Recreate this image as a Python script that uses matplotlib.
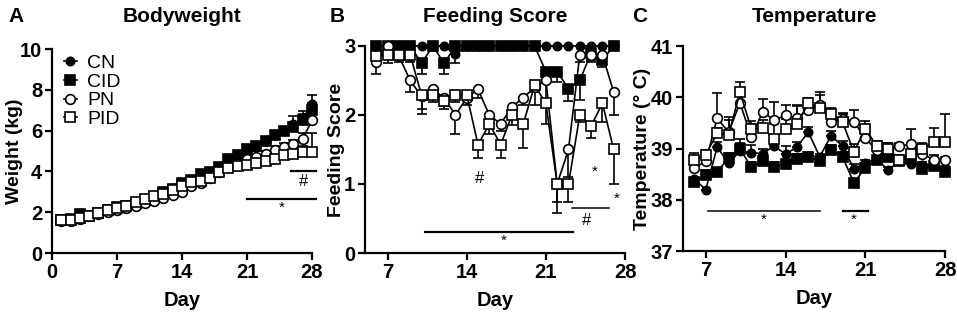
import matplotlib
matplotlib.use('Agg')
import matplotlib.pyplot as plt
import numpy as np

plt.rcParams['font.family'] = ['Liberation Sans', 'DejaVu Sans']

groups = ['CN', 'CID', 'PN', 'PID']

# Bodyweight (kg), days 1-28
bw_days = list(range(1, 29))
bw_cn = [1.6, 1.6, 1.7, 1.8, 1.95, 2.1, 2.2, 2.3, 2.45, 2.6, 2.75, 3.0, 3.2, 3.45,
         3.6, 3.8, 3.95, 4.2, 4.5, 4.8, 5.0, 5.2, 5.5, 5.8, 6.0, 6.3, 6.6, 7.3]
bw_cid = [1.6, 1.65, 1.9, 1.8, 1.95, 2.1, 2.25, 2.3, 2.45, 2.6, 2.75, 3.0, 3.15, 3.45,
          3.6, 3.85, 3.95, 4.2, 4.6, 4.8, 5.1, 5.25, 5.5, 5.8, 6.0, 6.2, 6.5, 7.0]
bw_pn = [1.55, 1.55, 1.65, 1.8, 1.9, 2.0, 2.1, 2.2, 2.3, 2.45, 2.55, 2.7, 2.85, 3.0,
         3.3, 3.45, 3.7, 3.95, 4.2, 4.35, 4.6, 4.7, 4.85, 5.05, 5.2, 5.35, 5.6, 6.5]
bw_pid = [1.6, 1.6, 1.7, 1.8, 1.95, 2.1, 2.2, 2.3, 2.5, 2.65, 2.8, 2.9, 3.1, 3.3,
          3.5, 3.55, 3.7, 3.95, 4.15, 4.25, 4.3, 4.4, 4.5, 4.6, 4.8, 4.85, 4.95, 4.95]
bw_cn_err = [0] * 23 + [0.15, 0.2, 0.4, 0.35, 0.45]
bw_cid_err = [0] * 26 + [0.3, 0.35]
bw_pn_err = [0] * 21 + [0.1, 0.15, 0.2, 0.2, 0.2, 0.3, 0.3]
bw_pid_err = [0] * 24 + [0.2, 0.25, 0.3, 0.95]

# Feeding score, days 6-27
fs_days = list(range(6, 28))
fs_cn = [3, 3, 3, 3, 3, 3, 3, 2.88, 3, 3, 3, 3, 3, 3, 3, 3, 3, 3, 3, 3, 3, 3]
fs_cid = [3, 3, 3, 3, 2.75, 3, 2.75, 3, 3, 3, 3, 3, 3, 3, 3, 2.63, 2.63, 2.38, 2.5, 2.9, 2.8, 3]
fs_pn = [2.77, 3.0, 2.85, 2.5, 2.27, 2.37, 2.25, 2.0, 2.25, 2.37, 2.0, 1.87, 2.12, 2.25,
         2.4, 2.5, 1.0, 1.5, 2.87, 2.87, 2.87, 2.33]
fs_pid = [2.85, 2.87, 2.87, 2.87, 2.29, 2.29, 2.2, 2.29, 2.29, 1.57, 1.87, 1.57, 2.0, 1.87,
          2.43, 2.17, 1.0, 1.0, 2.0, 1.84, 2.17, 1.5]
fs_cn_err = [0] * 7 + [0.12] + [0] * 14
fs_cid_err = [0, 0, 0, 0, 0.15, 0, 0.15, 0, 0, 0, 0, 0, 0, 0, 0, 0.15, 0.15, 0.18, 0.28, 0.1, 0.1, 0]
fs_pn_err = [0.17, 0, 0, 0.17, 0.25, 0.1, 0.12, 0.28, 0.1, 0.12, 0.1, 0.1, 0.1, 0.1,
             0.25, 0.35, 0.26, 0.4, 0.1, 0.1, 0.1, 0.33]
fs_pid_err = [0.1, 0.12, 0.1, 0.1, 0.2, 0.1, 0.12, 0.1, 0.08, 0.2, 0.15, 0.2, 0.15, 0.35,
              0.1, 0.3, 0.42, 0.26, 0.1, 0.17, 0.27, 0.5]

# Temperature (deg C), days 6-28
t_days = list(range(6, 29))
t_cn = [38.4, 38.2, 39.03, 38.71, 38.95, 38.92, 38.9, 39.05, 38.89, 39.03, 39.32, 38.84,
        39.25, 39.05, 38.6, 38.72, 38.8, 38.58, 38.75, 38.7, 38.68, 38.68, 38.6]
t_cid = [38.35, 38.48, 38.55, 38.81, 38.99, 38.64, 38.75, 38.64, 38.7, 38.8, 38.84, 38.75,
         38.97, 38.84, 38.33, 38.62, 38.78, 38.84, 38.75, 38.8, 38.6, 38.65, 38.55]
t_pn = [38.62, 38.75, 39.59, 39.32, 39.89, 39.22, 39.72, 39.55, 39.65, 39.6, 39.75, 39.85,
        39.52, 39.58, 39.52, 39.2, 38.97, 39.0, 39.05, 39.08, 38.9, 38.78, 38.78]
t_pid = [38.77, 38.88, 39.3, 39.26, 40.1, 39.38, 39.4, 39.18, 39.38, 39.48, 39.88, 39.8,
         39.68, 39.52, 38.93, 39.39, 39.05, 39.0, 38.78, 38.9, 39.0, 39.12, 39.12]
t_cn_err = [0, 0, 0.1, 0.1, 0.15, 0.15, 0.1, 0.1, 0.15, 0.1, 0.1, 0.05,
            0.1, 0.1, 0.1, 0.05, 0.05, 0.05, 0.05, 0.05, 0.05, 0.05, 0.05]
t_cid_err = [0, 0.1, 0.05, 0.1, 0.2, 0.1, 0.1, 0.1, 0.05, 0.1, 0.1, 0.05,
             0.1, 0.1, 0.05, 0.05, 0.05, 0.05, 0.05, 0.05, 0.05, 0.05, 0.05]
t_pn_err = [0.1, 0.1, 0.5, 0.3, 0.15, 0.25, 0.25, 0.35, 0.2, 0.25, 0.15, 0.2,
            0.2, 0.12, 0.23, 0.1, 0.15, 0.1, 0.05, 0.3, 0.15, 0.1, 0.05]
t_pid_err = [0.15, 0.1, 0.1, 0.3, 0.2, 0.15, 0.15, 0.3, 0.2, 0.35, 0.1, 0.3,
             0.12, 0.15, 0.15, 0.15, 0.1, 0.1, 0.1, 0.2, 0.1, 0.28, 0.55]

styles = {
    'CN': dict(marker='o', mfc='black', ms=6),
    'CID': dict(marker='s', mfc='black', ms=7),
    'PN': dict(marker='o', mfc='white', ms=7),
    'PID': dict(marker='s', mfc='white', ms=7.5),
}

fig = plt.figure(figsize=(9.57, 3.12), dpi=100)


def panel(rect, days, series, errs, err_dir, xlim, ylim, xticks, yticks, ylabel, ylab_x):
    ax = fig.add_axes(rect)
    for name, vals, err in zip(groups, series, errs):
        err = np.array(err, dtype=float)
        zeros = np.zeros_like(err)
        yerr = [err, zeros] if err_dir == 'down' else [zeros, err]
        ax.errorbar(days, vals, yerr=yerr, color='black', lw=1.2, mec='black', mew=1.2,
                    elinewidth=1.2, capsize=3.5, capthick=1.2, clip_on=False,
                    label=name, **styles[name])
    ax.set_xlim(*xlim)
    ax.set_ylim(*ylim)
    ax.set_xticks(xticks)
    ax.set_yticks(yticks)
    for s in ['top', 'right']:
        ax.spines[s].set_visible(False)
    for s in ['left', 'bottom']:
        ax.spines[s].set_linewidth(1.6)
    ax.tick_params(width=1.6, length=5, labelsize=14.5, pad=2)
    for lab in ax.get_xticklabels() + ax.get_yticklabels():
        lab.set_fontweight('bold')
    ax.set_xlabel('Day', fontsize=14.5, fontweight='bold', labelpad=7)
    ax.set_ylabel(ylabel, fontsize=14, fontweight='bold')
    ax.yaxis.set_label_coords(ylab_x, 0.5)
    return ax


axA = panel([0.0543, 0.1891, 0.2717, 0.6538], bw_days,
            [bw_cn, bw_cid, bw_pn, bw_pid], [bw_cn_err, bw_cid_err, bw_pn_err, bw_pid_err],
            'up', (0, 28), (0, 10), [0, 7, 14, 21, 28], [0, 2, 4, 6, 8, 10], 'Weight (kg)',
            -0.112)
axB = panel([0.3814, 0.1891, 0.2717, 0.6635], fs_days,
            [fs_cn, fs_cid, fs_pn, fs_pid], [fs_cn_err, fs_cid_err, fs_pn_err, fs_pid_err],
            'down', (5, 28), (0, 3), [7, 14, 21, 28], [0, 1, 2, 3], 'Feeding Score',
            -0.075)
axC = panel([0.7137, 0.1955, 0.2738, 0.6570], t_days,
            [t_cn, t_cid, t_pn, t_pid], [t_cn_err, t_cid_err, t_pn_err, t_pid_err],
            'up', (5, 28), (37, 41), [7, 14, 21, 28], [37, 38, 39, 40, 41], 'Temperature (° C)',
            -0.122)

# legend (panel A)
handles, labels = axA.get_legend_handles_labels()
handles = [h[0] for h in handles]
axA.legend(handles, labels, loc='upper left', bbox_to_anchor=(0.0, 1.03), frameon=False,
           handlelength=0.7, handletextpad=0.5, labelspacing=0.05, fontsize=14,
           borderaxespad=0.2)

# significance bars
axA.plot([21, 28.4], [2.65, 2.65], color='black', lw=1.6, clip_on=False)
axA.text(24.7, 2.2, '*', ha='center', va='center', fontsize=11)
axA.plot([25.7, 28.4], [4.0, 4.0], color='black', lw=1.6, clip_on=False)
axA.text(27.1, 3.5, '#', ha='center', va='center', fontsize=12)

axB.plot([10.3, 23.4], [0.31, 0.31], color='black', lw=1.6)
axB.text(17.3, 0.17, '*', ha='center', va='center', fontsize=11)
axB.plot([23.3, 26.6], [0.65, 0.65], color='black', lw=1.1)
axB.text(24.6, 0.47, '#', ha='center', va='center', fontsize=12)
axB.text(15.1, 1.08, '#', ha='center', va='center', fontsize=12)
axB.text(25.3, 1.17, '*', ha='center', va='center', fontsize=11)
axB.text(27.3, 0.79, '*', ha='center', va='center', fontsize=11)

axC.plot([7.2, 17.0], [37.78, 37.78], color='black', lw=1.1)
axC.text(12.1, 37.6, '*', ha='center', va='center', fontsize=11)
axC.plot([19.0, 21.2], [37.78, 37.78], color='black', lw=1.6)
axC.text(20.0, 37.6, '*', ha='center', va='center', fontsize=11)

# titles and panel letters
for ax, title in [(axA, 'Bodyweight'), (axB, 'Feeding Score'), (axC, 'Temperature')]:
    pos = ax.get_position()
    fig.text((pos.x0 + pos.x1) / 2, 1 - 16 / 312, title, ha='center', va='center',
             fontsize=15, fontweight='bold')
for x, letter in [(8, 'A'), (330, 'B'), (632, 'C')]:
    fig.text(x / 957, 1 - 16 / 312, letter, ha='left', va='center', fontsize=15,
             fontweight='bold')

fig.savefig('out.png', dpi=100)
